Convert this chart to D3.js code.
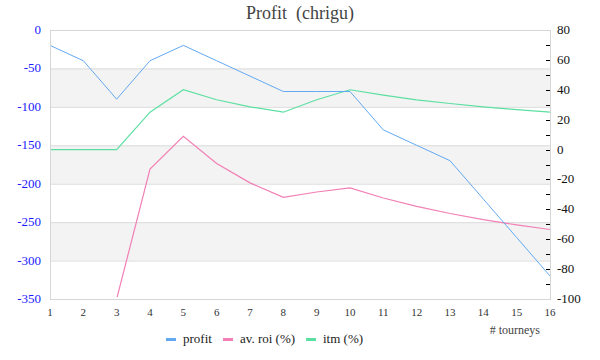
<!DOCTYPE html>
<html><head><meta charset="utf-8">
<script src="https://cdn.jsdelivr.net/npm/d3@7"></script>
<style>body{margin:0;background:#fff} svg text{font-family:"Liberation Serif","DejaVu Serif",serif}</style>
</head><body>
<svg id="c" width="600" height="360"></svg>
<script>
const tourneys = [1,2,3,4,5,6,7,8,9,10,11,12,13,14,15,16];
const profit = [-20,-40,-90,-40,-20,-40,-60,-80,-80,-80,-130,-150,-170,-220,-270,-320];
const avRoi = [-100,-100,-100,-13,8.8,-9.3,-22.3,-32,-28.4,-25.6,-32.4,-38,-42.8,-46.9,-50.4,-53.5];
const itm = [0,0,0,25,40,33.3,28.6,25,33.3,40,36.4,33.3,30.8,28.6,26.7,25];
const leftTicks = [0,-50,-100,-150,-200,-250,-300,-350];
const rightTicks = [80,60,40,20,0,-20,-40,-60,-80,-100];
const seriesNames = ["profit","av. roi (%)","itm (%)"];
const colors = ["#62a9f2","#f27fb5","#5ddfa2"];

const svg = d3.select("#c");
const L=50,R=550,T=30,B=299;
const x = d3.scaleLinear().domain([1,16]).range([L,R]);
const yL = d3.scaleLinear().domain([-350,0]).range([B,T]);
const yR = d3.scaleLinear().domain([-100,80]).range([B,T]);

// bands
for(let i=0;i<leftTicks.length-1;i++){
  if(i%2===1){
    svg.append("rect").attr("x",L).attr("width",R-L)
      .attr("y",yL(leftTicks[i])).attr("height",yL(leftTicks[i+1])-yL(leftTicks[i]))
      .attr("fill","#f3f3f3");
  }
}
// gridlines
leftTicks.slice(1,-1).forEach(v=>{
  svg.append("line").attr("x1",L).attr("x2",R).attr("y1",yL(v)+0.5).attr("y2",yL(v)+0.5)
    .attr("stroke","#dcdcdc").attr("stroke-width",1);
});

// left labels
svg.append("g").selectAll("text").data(leftTicks).join("text")
  .attr("x",41).attr("y",d=>yL(d)+4).attr("text-anchor","end")
  .attr("font-size",13).attr("fill","#1a1aff").text(d=>d);

// right axis ticks
const rMinor = d3.range(-100,81,10);
svg.append("g").selectAll("line").data(rMinor).join("line")
  .attr("x1",R-4).attr("x2",R).attr("y1",d=>Math.round(yR(d))+0.5).attr("y2",d=>Math.round(yR(d))+0.5)
  .attr("stroke","#000").attr("stroke-width",1);
svg.append("g").selectAll("text").data(rightTicks).join("text")
  .attr("x",557).attr("y",d=>yR(d)+4).attr("text-anchor","start")
  .attr("font-size",13).attr("fill","#111").text(d=>d);

// x labels
svg.append("g").selectAll("text").data(tourneys).join("text")
  .attr("x",d=>x(d)).attr("y",316).attr("text-anchor","middle")
  .attr("font-size",11).attr("fill","#333").text(d=>d);
svg.append("text").attr("x",540).attr("y",334).attr("text-anchor","end")
  .attr("font-size",12).attr("fill","#444").text("# tourneys");

// clip
svg.append("clipPath").attr("id","clip").append("rect").attr("x",L).attr("y",T).attr("width",R-L).attr("height",B-T-2);

const lineL = d3.line().x((d,i)=>x(tourneys[i])).y(d=>yL(d));
const lineR = d3.line().x((d,i)=>x(tourneys[i])).y(d=>yR(d));
const g = svg.append("g").attr("clip-path","url(#clip)");
g.append("path").datum(itm).attr("d",lineR).attr("fill","none").attr("stroke",colors[2]).attr("stroke-width",1.2);
g.append("path").datum(avRoi).attr("d",lineR).attr("fill","none").attr("stroke",colors[1]).attr("stroke-width",1.2);
g.append("path").datum(profit).attr("d",lineL).attr("fill","none").attr("stroke",colors[0]).attr("stroke-width",1);

// frame
svg.append("rect").attr("x",L+0.5).attr("y",T+0.5).attr("width",R-L).attr("height",B-T)
  .attr("fill","none").attr("stroke","#d6d6d6").attr("stroke-width",1);

// title
svg.append("text").attr("x",300).attr("y",19).attr("text-anchor","middle")
  .attr("font-size",18).attr("fill","#444").text("Profit\u00a0\u00a0(chrigu)");

// legend
const legX = [166,223,306];
const lg = svg.append("g");
seriesNames.forEach((n,i)=>{
  lg.append("line").attr("x1",legX[i]).attr("x2",legX[i]+10).attr("y1",339.5).attr("y2",339.5)
    .attr("stroke",colors[i]).attr("stroke-width",3);
  lg.append("text").attr("x",legX[i]+17).attr("y",343)
    .attr("font-size",13).attr("fill","#222").text(n);
});
</script>
</body></html>
